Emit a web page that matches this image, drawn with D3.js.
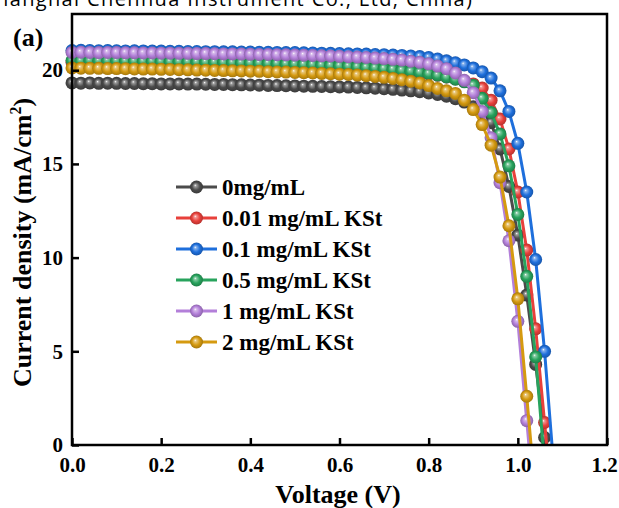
<!DOCTYPE html>
<html>
<head>
<meta charset="utf-8">
<script src="https://cdn.jsdelivr.net/npm/d3@7"></script>
<style>
  body { margin: 0; background: #fff; }
  svg { display: block; }
</style>
</head>
<body>
<div id="chart"></div>
<script>
// voltage grid (V) shared by every series
const voltage = [0.00, 0.02, 0.04, 0.06, 0.08, 0.10, 0.12, 0.14, 0.16, 0.18, 0.20,
  0.22, 0.24, 0.26, 0.28, 0.30, 0.32, 0.34, 0.36, 0.38, 0.40,
  0.42, 0.44, 0.46, 0.48, 0.50, 0.52, 0.54, 0.56, 0.58, 0.60,
  0.62, 0.64, 0.66, 0.68, 0.70, 0.72, 0.74, 0.76, 0.78, 0.80,
  0.82, 0.84, 0.86, 0.88, 0.90, 0.92, 0.94, 0.96, 0.98, 1.00,
  1.02, 1.04, 1.06, 1.08]

const seriesNames = ["0mg/mL", "0.01 mg/mL KSt", "0.1 mg/mL KSt", "0.5 mg/mL KSt", "1 mg/mL KSt", "2 mg/mL KSt"]

// current density (mA/cm2), one value per voltage step
const j0 = [19.32, 19.31, 19.32, 19.30, 19.31, 19.30, 19.29, 19.29, 19.28, 19.28, 19.27,
  19.27, 19.27, 19.26, 19.26, 19.25, 19.24, 19.24, 19.23, 19.22, 19.21,
  19.20, 19.19, 19.18, 19.17, 19.16, 19.15, 19.14, 19.13, 19.12, 19.11,
  19.10, 19.08, 19.06, 19.04, 19.01, 18.98, 18.94, 18.90, 18.85, 18.79,
  18.71, 18.61, 18.48, 18.30, 18.05, 17.70, 17.20, 15.80, 13.80, 11.20,
  8.00, 4.30, 0.40, -5.00]
const j001 = [20.42, 20.41, 20.42, 20.40, 20.41, 20.40, 20.39, 20.39, 20.38, 20.38, 20.37,
  20.36, 20.36, 20.35, 20.34, 20.34, 20.33, 20.32, 20.31, 20.30, 20.29,
  20.28, 20.27, 20.26, 20.25, 20.23, 20.22, 20.20, 20.19, 20.17, 20.15,
  20.13, 20.11, 20.08, 20.05, 20.02, 19.99, 19.95, 19.91, 19.86, 19.80,
  19.73, 19.64, 19.54, 19.42, 19.27, 19.05, 18.40, 17.40, 15.80, 13.50,
  10.40, 6.20, 1.20, -4.00]
const j01 = [21.05, 21.06, 21.05, 21.04, 21.05, 21.04, 21.03, 21.04, 21.03, 21.02, 21.02,
  21.01, 21.01, 21.00, 21.00, 20.99, 20.99, 20.98, 20.98, 20.97, 20.97,
  20.96, 20.96, 20.95, 20.94, 20.94, 20.93, 20.92, 20.91, 20.90, 20.89,
  20.88, 20.87, 20.86, 20.84, 20.83, 20.81, 20.79, 20.76, 20.73, 20.68,
  20.60, 20.50, 20.40, 20.28, 20.12, 19.92, 19.58, 18.90, 17.80, 16.10,
  13.50, 9.90, 5.00, -1.00]
const j05 = [20.52, 20.51, 20.52, 20.50, 20.51, 20.50, 20.49, 20.49, 20.48, 20.48, 20.47,
  20.46, 20.46, 20.45, 20.44, 20.44, 20.43, 20.42, 20.41, 20.40, 20.39,
  20.38, 20.37, 20.36, 20.34, 20.33, 20.31, 20.30, 20.28, 20.26, 20.24,
  20.22, 20.19, 20.16, 20.13, 20.09, 20.05, 20.00, 19.95, 19.89, 19.82,
  19.74, 19.64, 19.52, 19.38, 19.20, 18.50, 17.75, 16.60, 14.90, 12.30,
  9.00, 4.70, -1.00]
const j1 = [20.95, 20.96, 20.95, 20.94, 20.95, 20.94, 20.93, 20.93, 20.92, 20.92, 20.91,
  20.91, 20.90, 20.90, 20.89, 20.89, 20.88, 20.87, 20.87, 20.86, 20.85,
  20.84, 20.84, 20.83, 20.82, 20.81, 20.80, 20.79, 20.77, 20.76, 20.74,
  20.72, 20.70, 20.68, 20.65, 20.62, 20.58, 20.54, 20.48, 20.42, 20.34,
  20.22, 20.08, 19.85, 19.46, 18.80, 17.80, 16.40, 14.00, 10.90, 6.60,
  1.30, -4.00]
const j2 = [20.12, 20.11, 20.10, 20.10, 20.09, 20.09, 20.08, 20.07, 20.06, 20.06, 20.05,
  20.04, 20.03, 20.02, 20.01, 20.00, 19.99, 19.98, 19.97, 19.96, 19.95,
  19.94, 19.92, 19.91, 19.90, 19.88, 19.87, 19.85, 19.83, 19.81, 19.79,
  19.77, 19.74, 19.71, 19.67, 19.62, 19.56, 19.49, 19.41, 19.32, 19.18,
  19.03, 18.90, 18.76, 18.40, 17.90, 17.10, 16.00, 14.30, 11.70, 7.80,
  2.60, -2.80]

const xTicks = [0.0, 0.2, 0.4, 0.6, 0.8, 1.0, 1.2]
const yTicks = [0, 5, 10, 15, 20]

const colors = ["#4b4b4b", "#e8403b", "#1e6fdc", "#28a35d", "#b37fd9", "#d59a10"]

const allJ = [j0, j001, j01, j05, j1, j2]
const series = seriesNames.map((name, i) => ({
  name: name,
  color: colors[i],
  points: allJ[i].map((j, k) => ({ v: voltage[k], j: j }))
}))

const W = 619, H = 508
const plot = { left: 72, right: 607, top: 14, bottom: 445 }
const font = "'Liberation Serif', 'Times New Roman', serif"

const svg = d3.select("#chart").append("svg")
  .attr("width", W)
  .attr("height", H)

const x = d3.scaleLinear().domain([0, 1.2]).range([plot.left, plot.right])
const y = d3.scaleLinear().domain([0, 23]).range([plot.bottom, plot.top])

// sphere-like marker fills
const defs = svg.append("defs")
series.forEach((s, i) => {
  const g = defs.append("radialGradient")
    .attr("id", "ball" + i)
    .attr("cx", "50%").attr("cy", "50%").attr("r", "50%")
    .attr("fx", "40%").attr("fy", "36%")
  g.append("stop").attr("offset", "0%").attr("stop-color", "#ffffff")
  g.append("stop").attr("offset", "18%").attr("stop-color", d3.interpolateRgb(s.color, "#ffffff")(0.45))
  g.append("stop").attr("offset", "60%").attr("stop-color", s.color)
  g.append("stop").attr("offset", "100%").attr("stop-color", d3.color(s.color).darker(0.7))
})
defs.append("clipPath").attr("id", "plotClip")
  .append("rect")
  .attr("x", plot.left - 12).attr("y", 0)
  .attr("width", plot.right - plot.left + 12)
  .attr("height", plot.bottom)

// header text, only its lower part shows at the top edge
svg.append("text")
  .attr("x", -4).attr("y", 6)
  .attr("font-family", "'Open Sans', 'Liberation Sans', sans-serif")
  .attr("font-size", 20)
  .attr("textLength", 476)
  .text("hanghai Chenhua Instrument Co., Ltd, China)")

const line = d3.line()
  .x(d => x(d.v))
  .y(d => y(d.j))

const dataLayer = svg.append("g").attr("clip-path", "url(#plotClip)")

series.forEach((s, i) => {
  const g = dataLayer.append("g")
  g.append("path")
    .datum(s.points)
    .attr("fill", "none")
    .attr("stroke", s.color)
    .attr("stroke-width", 3)
    .attr("d", line)
  g.selectAll("circle")
    .data(s.points)
    .enter().append("circle")
    .attr("cx", d => x(d.v))
    .attr("cy", d => y(d.j))
    .attr("r", 6.5)
    .attr("fill", `url(#ball${i})`)
})

// axes
const xAxis = svg.append("g")
  .attr("transform", `translate(0,${plot.bottom})`)
  .call(d3.axisBottom(x).tickValues(xTicks).tickFormat(d3.format(".1f"))
    .tickSizeInner(-7).tickSizeOuter(0).tickPadding(12))
const yAxis = svg.append("g")
  .attr("transform", `translate(${plot.left},0)`)
  .call(d3.axisLeft(y).tickValues(yTicks).tickFormat(d3.format("d"))
    .tickSizeInner(-7).tickSizeOuter(0).tickPadding(9))

;[xAxis, yAxis].forEach(a => {
  a.select(".domain").remove()
  a.selectAll("line").attr("stroke", "#000").attr("stroke-width", 2.5)
  a.selectAll("text")
    .attr("font-family", font)
    .attr("font-weight", "bold")
    .attr("font-size", 21)
    .attr("fill", "#000")
})
// keep the last x label inside the picture
xAxis.selectAll(".tick").filter(d => d === 1.2).select("text").attr("dx", -3)

// frame
svg.append("rect")
  .attr("x", plot.left).attr("y", plot.top)
  .attr("width", plot.right - plot.left)
  .attr("height", plot.bottom - plot.top)
  .attr("fill", "none")
  .attr("stroke", "#000")
  .attr("stroke-width", 2.5)

// titles
svg.append("text")
  .attr("x", 338)
  .attr("y", 503)
  .attr("text-anchor", "middle")
  .attr("font-family", font)
  .attr("font-weight", "bold")
  .attr("font-size", 26)
  .text("Voltage (V)")

const yTitle = svg.append("text")
  .attr("transform", `translate(31,${(plot.top + plot.bottom) / 2 + 13}) rotate(-90)`)
  .attr("text-anchor", "middle")
  .attr("font-family", font)
  .attr("font-weight", "bold")
  .attr("font-size", 26)
yTitle.append("tspan").text("Current density (mA/cm")
yTitle.append("tspan").attr("font-size", 16).attr("dy", -10).text("2")
yTitle.append("tspan").attr("dy", 10).text(")")

svg.append("text")
  .attr("x", 13).attr("y", 46)
  .attr("font-family", font)
  .attr("font-weight", "bold")
  .attr("font-size", 26)
  .text("(a)")

// legend
const legend = svg.append("g")
  .attr("transform", "translate(176,187)")

const rows = legend.selectAll("g")
  .data(series)
  .enter().append("g")
  .attr("transform", (d, i) => `translate(0,${i * 31})`)

rows.append("line")
  .attr("x1", 0).attr("x2", 41)
  .attr("stroke", d => d.color)
  .attr("stroke-width", 3)
rows.append("circle")
  .attr("cx", 20.5)
  .attr("r", 6.5)
  .attr("fill", (d, i) => `url(#ball${i})`)
rows.append("text")
  .attr("x", 46)
  .attr("dy", "0.35em")
  .attr("font-family", font)
  .attr("font-weight", "bold")
  .attr("font-size", 23)
  .text(d => d.name)
</script>
</body>
</html>
